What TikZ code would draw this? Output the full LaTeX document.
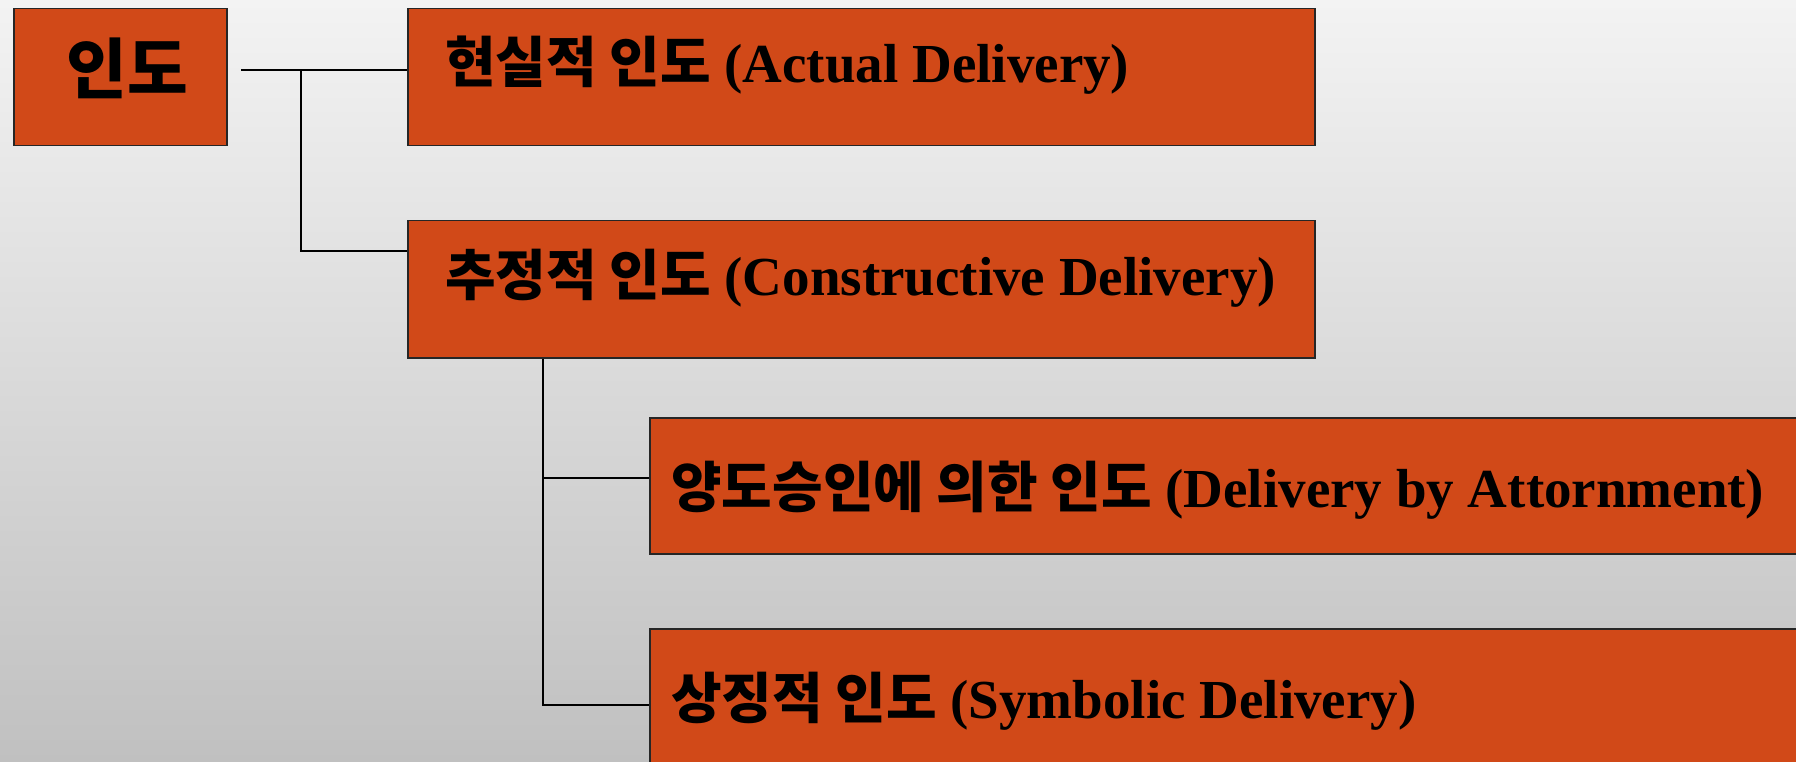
\documentclass[tikz,border=0pt]{standalone}
\usepackage{fontspec}
\setmainfont{Liberation Serif}
\newfontfamily\kr{Noto Sans CJK KR}
\definecolor{boxfill}{RGB}{209,73,24}
\definecolor{bgtop}{RGB}{243,243,243}
\definecolor{bgbot}{RGB}{192,192,192}
\begin{document}
\begin{tikzpicture}[x=1pt,y=-1pt,
  box/.style={draw=black!85,line width=1.5pt,fill=boxfill,inner sep=0pt,anchor=north west},
  lbl/.style={anchor=base west,inner sep=0pt,font=\fontsize{55}{60}\selectfont\bfseries},
  conn/.style={draw=black,line width=1.8pt}]
\useasboundingbox (0,0) rectangle (1796,762);
\shade[top color=bgtop,bottom color=bgbot] (0,0) rectangle (1796,762);
\begin{scope}
\clip (0,0) rectangle (1796,762);
% boxes
\node[box,minimum width=213pt,minimum height=137pt] (root) at (13,8) {};
\node[box,minimum width=907pt,minimum height=137pt] (b1) at (407,8) {};
\node[box,minimum width=907pt,minimum height=137pt] (b2) at (407,220) {};
\node[box,minimum width=1160pt,minimum height=136pt] (b3) at (649,417) {};
\node[box,minimum width=1160pt,minimum height=150pt] (b4) at (649,628) {};
% texts
\node[anchor=base,inner sep=0pt,font=\fontsize{66}{72}\selectfont\bfseries\kr] (rt) at (127,94) {인도};
\node[lbl] (t1) at (445,83) {{\kr 현실적 인도} (Actual Delivery)};
\node[lbl] (t2) at (445,295) {{\kr 추정적 인도} (Constructive Delivery)};
\node[lbl] (t3) at (671,507) {{\kr 양도승인에 의한 인도} (Delivery by Attornment)};
\node[lbl] (t4) at (671,718) {{\kr 상징적 인도} (Symbolic Delivery)};
% connectors
\coordinate (s0) at (241,70);
\coordinate (j1) at (301,70);
\coordinate (j2) at (301,251);
\coordinate (k0) at (543,357);
\coordinate (k1) at (543,478);
\coordinate (k2) at (543,705);
\draw[conn] (s0) -- (b1.west |- s0);
\draw[conn] (j1) -- (j2) -- (b2.west |- j2);
\draw[conn] (b2.south -| k0) -- (k2) -- (b4.west |- k2);
\draw[conn] (k1) -- (b3.west |- k1);
\end{scope}
\end{tikzpicture}
\end{document}
